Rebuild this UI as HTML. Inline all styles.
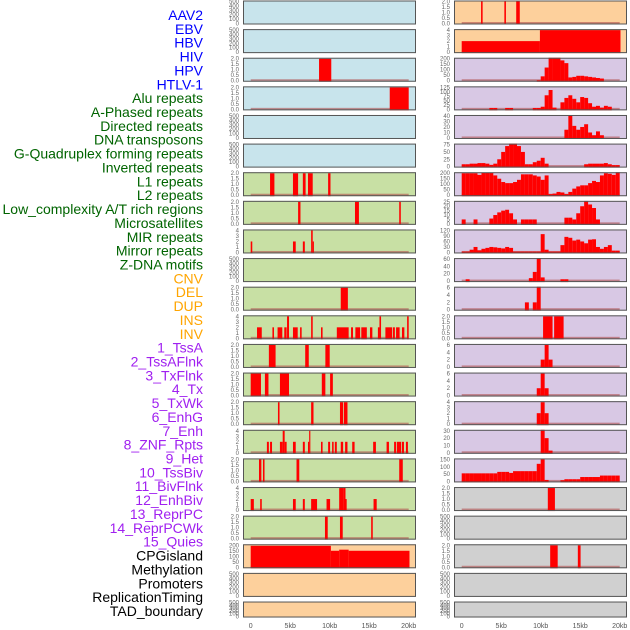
<!DOCTYPE html>
<html><head><meta charset="utf-8">
<style>
html,body{margin:0;padding:0;background:#fff;width:630px;height:630px;overflow:hidden}
svg{display:block}
.lab{font-family:"Liberation Sans",sans-serif;font-size:14px}
.tk{font-family:"Liberation Sans",sans-serif;font-size:6px;fill:#666}
.xt{font-family:"Liberation Sans",sans-serif;font-size:7px;fill:#555}
</style></head>
<body>
<svg id="chart" width="630" height="630" viewBox="0 0 630 630" xmlns="http://www.w3.org/2000/svg">
<g id="labels"></g>
<g id="panels"></g>
</svg>
<script>
const labelNames = ["AAV2","EBV","HBV","HIV","HPV","HTLV-1","Alu repeats","A-Phased repeats","Directed repeats","DNA transposons","G-Quadruplex forming repeats","Inverted repeats","L1 repeats","L2 repeats","Low_complexity A/T rich regions","Microsatellites","MIR repeats","Mirror repeats","Z-DNA motifs","CNV","DEL","DUP","INS","INV","1_TssA","2_TssAFlnk","3_TxFlnk","4_Tx","5_TxWk","6_EnhG","7_Enh","8_ZNF_Rpts","9_Het","10_TssBiv","11_BivFlnk","12_EnhBiv","13_ReprPC","14_ReprPCWk","15_Quies","CPGisland","Methylation","Promoters","ReplicationTiming","TAD_boundary"];
const labelColors = ["#0000ff","#0000ff","#0000ff","#0000ff","#0000ff","#0000ff","#006400","#006400","#006400","#006400","#006400","#006400","#006400","#006400","#006400","#006400","#006400","#006400","#006400","#ffa500","#ffa500","#ffa500","#ffa500","#ffa500","#a020f0","#a020f0","#a020f0","#a020f0","#a020f0","#a020f0","#a020f0","#a020f0","#a020f0","#a020f0","#a020f0","#a020f0","#a020f0","#a020f0","#a020f0","#000","#000","#000","#000","#000"];

const leftBg = ["#c8e4ec","#c8e4ec","#c8e4ec","#c8e4ec","#c8e4ec","#c8e4ec","#c8e0a4","#c8e0a4","#c8e0a4","#c8e0a4","#c8e0a4","#c8e0a4","#c8e0a4","#c8e0a4","#c8e0a4","#c8e0a4","#c8e0a4","#c8e0a4","#c8e0a4","#fdd09c","#fdd09c","#fdd09c"];
const rightBg = ["#fdd09c","#fdd09c","#d8c8e4","#d8c8e4","#d8c8e4","#d8c8e4","#d8c8e4","#d8c8e4","#d8c8e4","#d8c8e4","#d8c8e4","#d8c8e4","#d8c8e4","#d8c8e4","#d8c8e4","#d8c8e4","#d8c8e4","#d0d0d0","#d0d0d0","#d0d0d0","#d0d0d0","#d0d0d0"];

const T500=[0,100,200,300,400,500], T2=[0,0.5,1,1.5,2], T4=[0,1,2,3,4];
const leftTicks = [T500,T500,T2,T2,T500,T500,T2,T2,T4,T500,T2,T4,T2,T2,T2,T4,T2,T4,T2,[0,50,100,150,200],T500,T500];
const rightTicks = [T2,T4,[0,50,100,150,200],[0,25,50,75,100,125],[0,10,20,30,40],[0,25,50,75],[0,50,100,150,200],[0,5,10,15,20,25],[0,30,60,90,120],[0,20,40,60],[0,2,4,6],T2,[0,2,4,6],[0,2,4,6],T4,[0,10,20,30],[0,50,100,150],T2,T500,T2,T500,T500];

// segments [startKb, endKb, value]
const leftSegs = [
 [],[],
 [[8.65,10.2,2]],
 [[17.6,20,2]],
 [],[],
 [[2.45,3.0,2],[5.35,6.0,2],[6.6,6.95,2],[7.25,7.85,2],[9.8,10.1,2]],
 [[6.0,6.3,2],[13.2,13.7,2],[18.8,19.0,2]],
 [[0,0.2,2],[5.35,5.7,2],[6.6,6.85,2],[7.65,7.85,4],[7.85,8.0,2]],
 [],
 [[11.4,12.3,2]],
 [[0.8,1.4,2],[2.75,2.95,2],[3.4,4.0,2],[4.25,4.55,2],[4.6,4.85,4],[5.35,5.95,2],[6.25,6.45,2],[7.65,7.85,4],[8.9,9.1,2],[10.9,12.4,2],[12.7,12.95,2],[13.25,13.85,2],[14.0,14.7,2],[15.1,15.4,2],[16.1,16.3,2],[16.3,16.5,4],[17.05,17.9,2],[18.0,18.25,2],[18.4,18.85,2],[19.15,19.45,2],[19.8,20.0,4]],
 [[2.3,3.15,2],[6.9,7.35,2],[9.45,10.0,2]],
 [[0,1.3,2],[1.8,2.25,2],[3.7,4.85,2],[9.0,9.45,2],[10.05,10.4,2]],
 [[3.45,3.65,2],[7.65,7.95,2],[11.3,11.7,2],[11.8,12.25,2]],
 [[2.05,2.3,2],[2.45,2.7,2],[3.7,4.05,2],[4.05,4.3,4],[4.3,4.55,2],[5.35,5.7,2],[6.6,6.85,2],[7.25,7.4,2],[7.4,7.55,4],[8.9,9.1,2],[9.8,10.05,2],[10.3,10.5,2],[10.65,10.9,2],[11.4,11.7,2],[11.95,12.25,2],[12.85,13.15,2],[15.5,15.85,2],[17.2,17.5,2],[18.15,18.4,2],[18.5,19.05,2],[19.15,19.4,2],[19.65,19.9,2]],
 [[1.05,1.35,2],[1.55,1.75,2],[5.8,6.15,2],[18.8,19.25,2]],
 [[0,0.4,2],[1.2,1.4,2],[5.35,5.7,2],[6.6,6.85,2],[7.65,8.4,2],[9.6,10.05,2],[11.2,11.7,4],[11.7,12.0,4],[12.0,12.15,2],[15.55,15.95,2]],
 [[9.4,9.75,2],[11.3,11.65,2],[15.25,15.45,2]],
 [[0,10.15,195],[10.15,11.2,150],[11.2,12.4,160],[12.4,20.1,150]],
 [],[]
];
const rightSegs = [
 [[2.45,2.65,2],[5.4,5.6,2],[6.9,7.35,2]],
 [[0,9.9,2],[9.9,20.1,4]],
 [],[],[],[],[],[],[],[],[],
 [[10.3,11.5,2],[11.7,12.9,2]],
 [],[],[],[],[],
 [[10.9,11.8,2]],
 [],
 [[11.2,12.15,2],[14.7,15.05,2]],
 [],[]
];
// 40 bins of 0.5 kb for histogram tracks (right column)
const rightHist = [
 null,null,
 [0,0,0,0,0,0,0,0,0,0,0,0,0,0,0,0,0,0,0,5,40,120,220,220,210,185,160,30,35,45,45,40,35,30,25,20,0,0,0,0],
 [0,0,0,0,0,0,0,8,8,0,0,8,8,0,0,0,0,0,8,8,15,80,110,10,0,40,65,80,60,40,70,65,35,15,20,10,20,15,0,0],
 [0,0,0,0,0,0,0,0,0,0,0,0,0,0,0,0,0,0,0,0,0,0,0,0,0,0,15,40,22,15,20,25,10,5,12,5,0,0,0,0],
 [8,8,10,10,12,12,10,6,10,25,50,70,85,80,70,50,8,8,15,20,30,10,0,0,0,0,0,0,0,0,0,8,10,10,10,10,12,8,5,5],
 [200,200,200,200,185,205,205,205,180,150,120,110,110,120,140,190,190,190,180,170,140,180,10,15,30,25,10,30,60,80,90,90,110,130,120,180,200,195,185,210],
 [5,0,0,5,0,0,0,6,10,13,15,16,12,5,0,5,5,5,5,0,0,0,0,0,0,0,7,7,5,12,20,26,22,18,5,0,0,0,0,0],
 [5,5,15,30,12,20,25,30,28,25,22,30,25,5,5,5,5,5,5,5,100,15,5,5,5,40,85,80,65,70,60,50,70,72,30,20,30,40,10,10],
 [0,5,0,0,0,0,0,0,0,0,0,0,0,0,0,0,0,8,25,75,10,0,0,0,0,5,5,0,0,0,0,0,0,0,0,0,0,0,0,0],
 [0,0,0,0,0,0,0,0,0,0,0,0,0,0,0,0,2,0,2,7,0,0,0,0,0,0,0,0,0,0,0,0,0,0,0,0,0,0,0,0],
 null,
 [0,0,0,0,0,0,0,0,0,0,0,0,0,0,0,0,0,0,0,0,2,6,2,0,0,0,0,0,0,0,0,0,0,0,0,0,0,0,0,0],
 [0,0,0,0,0,0,0,0,0,0,0,0,0,0,0,0,0,0,0,2,6,2,0,0,0,0,0,0,0,0,0,0,0,0,0,0,0,0,0,0],
 [0,0,0,0,0,0,0,0,0,0,0,0,0,0,0,0,0,0,0,2,4,2,0,0,0,0,0,0,0,0,0,0,0,0,0,0,0,0,0,0],
 [0,0,0,0,0,0,0,0,0,0,0,0,0,0,0,0,0,0,0,0,35,20,3,0,0,0,0,0,0,0,0,0,0,0,0,0,0,0,0,0],
 [55,55,55,55,55,55,55,55,55,65,65,65,58,70,70,70,70,70,70,120,150,10,0,0,0,8,15,15,15,15,30,30,30,30,30,40,40,40,40,40],
 null,null,null,null,null
];
const xTickKb = [0,5,10,15,20];
const xTickLabels = ["0","5kb","10kb","15kb","20kb"];

const NS="http://www.w3.org/2000/svg";
function mk(tag, attrs, parent){const e=document.createElementNS(NS,tag);for(const k in attrs)e.setAttribute(k,attrs[k]);parent.appendChild(e);return e;}

const labG=document.getElementById('labels');
labelNames.forEach((n,i)=>{
  const t=mk('text',{x:203,y:20+i*13.86,'text-anchor':'end',class:'lab',fill:labelColors[i]},labG);
  
  
  t.textContent=n;
});

const pG=document.getElementById('panels');
function drawPanel(col,row,bg,ticks,segs){
  const px = col===0?243:454, pw=173;
  const x0 = px+7.7, kbw=7.9;
  const top = row*28.62+0.5;
  const h = row===21?16:24;
  const g=mk('g',{},pG);
  
  
  mk('rect',{x:px,y:top,width:pw,height:h,fill:bg},g);
  const ymax=ticks[ticks.length-1];
  const ys=v=>top+h-1-(v/ymax)*(h-2);
  const xs=k=>x0+k*kbw;
  if(segs.length){
    const bl=mk('rect',{x:xs(0),y:top+h-2.5,width:xs(20)-xs(0),height:1.8,fill:'#b05050','fill-opacity':0.6},g);
    
    
  }
  segs.forEach(s=>{
    if(s[2]<=0) return;
    const y=Math.max(top,ys(s[2]));
    const r=mk('rect',{x:xs(s[0]),y:y,width:Math.max(0.8,xs(s[1])-xs(s[0])),height:top+h-y,fill:'#ff0000'},g);
    
    
  });
  mk('rect',{x:px+0.5,y:top+0.5,width:pw-1,height:h-1,fill:'none',stroke:'#555',"stroke-width":1},g);
  const dec = ticks.some(t=>t%1!==0);
  ticks.forEach(t=>{
    const tt=mk('text',{x:px-4,y:ys(t)+2,'text-anchor':'end',class:'tk'},g);
    
    
    tt.textContent= dec? t.toFixed(1): String(t);
  });
}
for(let r=0;r<22;r++){
  drawPanel(0,r,leftBg[r],leftTicks[r],leftSegs[r]);
  let segs=rightSegs[r].slice();
  if(rightHist[r]) rightHist[r].forEach((v,i)=>{ if(v>0) segs.push([i*0.5,i*0.5+0.5,v]); });
  drawPanel(1,r,rightBg[r],rightTicks[r],segs);
}
[243,454].forEach((px,c)=>{
  xTickKb.forEach((k,i)=>{
    const t=mk('text',{x:px+7.7+k*7.9,y:628,'text-anchor':'middle',class:'xt'},pG);
    
    
    t.textContent=xTickLabels[i];
  });
});
</script>
</body></html>
